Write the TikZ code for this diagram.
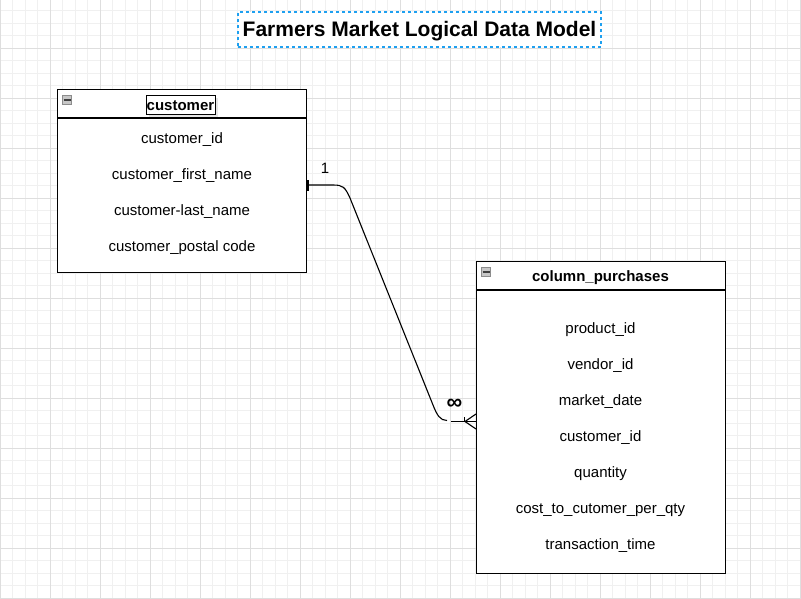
\documentclass[tikz,border=0pt]{standalone}
\usepackage{fontspec}
\setmainfont{Liberation Sans}
\usetikzlibrary{shadows}
\begin{document}
\begin{tikzpicture}[x=1pt,y=-1pt,
  minorgrid/.style={draw=black!6,line width=0.8pt},
  majorgrid/.style={draw=black!13,line width=0.8pt},
  tablebox/.style={draw=black,line width=1.1pt,fill=white,rectangle,inner sep=0pt,anchor=north west},
  rowtext/.style={font=\fontsize{15}{16}\selectfont,inner sep=0pt},
  headtext/.style={font=\bfseries\fontsize{15}{16}\selectfont,inner sep=0pt},
  iconbox/.style={draw=black!45,fill=black!22,minimum width=9pt,minimum height=9pt,inner sep=0pt},
  conn/.style={draw=black,line width=1.1pt}]
\useasboundingbox (0,0) rectangle (801,598);
\fill[white] (0,0) rectangle (801,598);
% grid
\foreach \i in {0,...,64} {\draw[minorgrid] (\i*12.5,0) -- (\i*12.5,598);}
\foreach \j in {0,...,47} {\draw[minorgrid] (0,10.5+\j*12.5) -- (801,10.5+\j*12.5);}
\foreach \i in {0,...,16} {\draw[majorgrid] (\i*50,0) -- (\i*50,598);}
\foreach \j in {0,...,11} {\draw[majorgrid] (0,48+\j*50) -- (801,48+\j*50);}
% title
\node[draw={rgb,255:red,30;green,160;blue,240},dashed,line width=1.1pt,fill=white,
  minimum width=363pt,minimum height=35pt,inner sep=0pt] (title) at (419.5,29.5) {};
\node[font=\bfseries\fontsize{21}{22}\selectfont,inner sep=0pt] (titletext) at (419.5,31) {Farmers Market Logical Data Model};
% customer table
\node[tablebox,minimum width=249pt,minimum height=183pt] (cust) at (57,89) {};
\draw[line width=1.1pt] (57,118) -- (306,118);
\node[iconbox] (custicon) at (67,100) {};
\draw[line width=1.2pt,black!75] (63.5,100) -- (70.5,100);
\node[draw=black,line width=0.8pt,fill=white,minimum width=69pt,minimum height=19pt,inner sep=0pt,
  drop shadow={opacity=0.2}] (custhead) at (180.5,104.5) {};
\node[headtext] (custheadtext) at (180.5,106) {customer};
\node[rowtext] (c1) at (182,140) {customer\_id};
\node[rowtext] (c2) at (182,176) {customer\_first\_name};
\node[rowtext] (c3) at (182,212) {customer-last\_name};
\node[rowtext] (c4) at (182,248) {customer\_postal code};
% purchases table
\node[tablebox,minimum width=249pt,minimum height=312pt] (purch) at (476,261) {};
\draw[line width=1.1pt] (476,290) -- (725,290);
\node[iconbox] (purchicon) at (486,272) {};
\draw[line width=1.2pt,black!75] (482.5,272) -- (489.5,272);
\node[headtext] (purchhead) at (600.5,278) {column\_purchases};
\node[rowtext] (p1) at (600.5,330) {product\_id};
\node[rowtext] (p2) at (600.5,366) {vendor\_id};
\node[rowtext] (p3) at (600.5,402) {market\_date};
\node[rowtext] (p4) at (600.5,438) {customer\_id};
\node[rowtext] (p5) at (600.5,474) {quantity};
\node[rowtext] (p6) at (600.5,510) {cost\_to\_cutomer\_per\_qty};
\node[rowtext] (p7) at (600.5,546) {transaction\_time};
% connector
\coordinate (s) at (306,185);
\coordinate (e) at (447,420.5);
\coordinate (f) at (451,421.5);
\coordinate (g) at (476,421.5);
\draw[conn] (s) -- (333,185) .. controls (343,185) and (345,187) .. (350,198) -- (433,405) .. controls (437,415) and (440,420.5) .. (e);
\draw[conn] (308,180) -- (308,191);
\draw[conn] (f) -- (g);
\draw[conn] (465,421.5) -- (476,414);
\draw[conn] (465,421.5) -- (476,429);
\draw[conn] (464.5,417) -- (464.5,421.5);
\node[font=\fontsize{15}{16}\selectfont,inner sep=0pt] (one) at (325,168) {1};
\node[font=\bfseries\fontsize{22}{22}\selectfont,inner sep=0pt] (many) at (454.5,404) {∞};
\end{tikzpicture}
\end{document}
